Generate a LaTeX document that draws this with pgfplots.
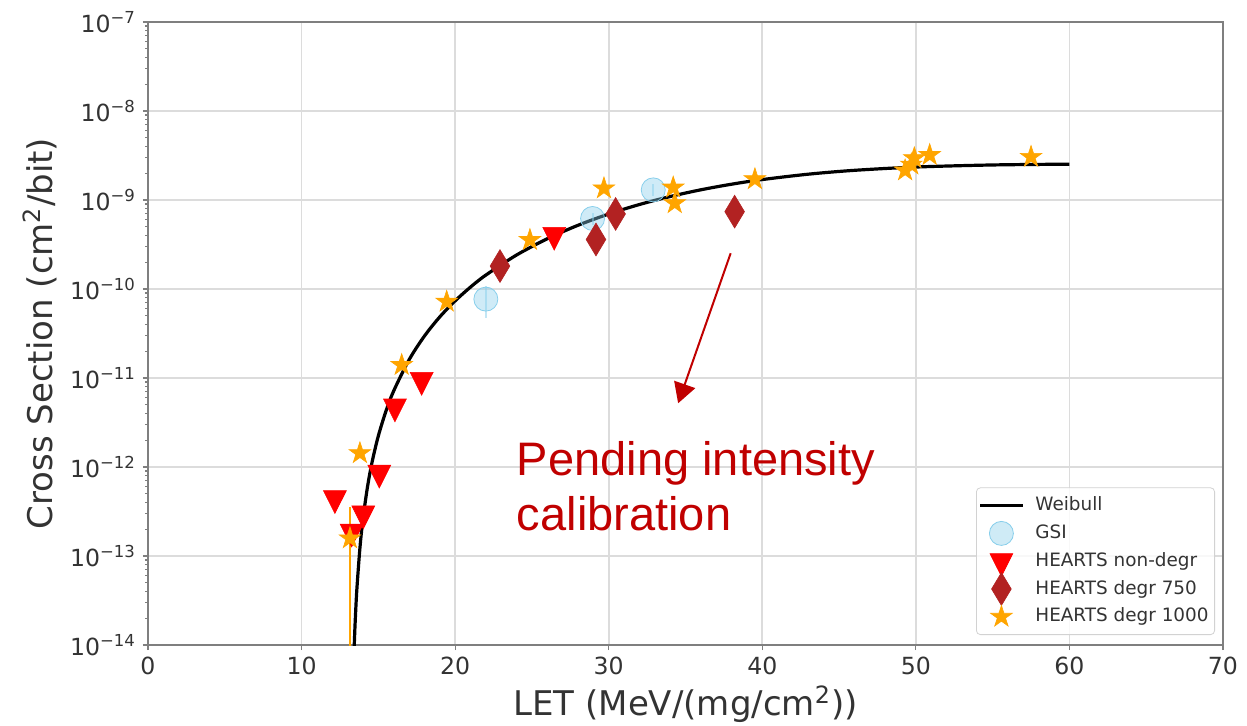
\documentclass[border=0pt]{standalone}
\usepackage{fontspec}
\setmainfont{DejaVu Sans}
\newfontfamily\arialfont{Liberation Sans}
\usepackage{pgfplots}
\pgfplotsset{compat=1.18}
\usetikzlibrary{arrows.meta}
\definecolor{GSIblue}{HTML}{87CEEB}
\definecolor{Firebrick}{HTML}{B22222}
\definecolor{StarOrange}{HTML}{FFA500}
\definecolor{Note}{HTML}{C00000}
\definecolor{GridGray}{HTML}{DCDCDC}
\definecolor{Spine}{HTML}{7F7F7F}

% filled five-point star, like matplotlib's '*'
\pgfdeclareplotmark{fstar}{%
  \pgfpathmoveto{\pgfpoint{0pt}{\pgfplotmarksize}}%
  \pgfpathlineto{\pgfpoint{-0.2245\pgfplotmarksize}{0.3090\pgfplotmarksize}}%
  \pgfpathlineto{\pgfpoint{-0.9511\pgfplotmarksize}{0.3090\pgfplotmarksize}}%
  \pgfpathlineto{\pgfpoint{-0.3633\pgfplotmarksize}{-0.1180\pgfplotmarksize}}%
  \pgfpathlineto{\pgfpoint{-0.5878\pgfplotmarksize}{-0.8090\pgfplotmarksize}}%
  \pgfpathlineto{\pgfpoint{0pt}{-0.382\pgfplotmarksize}}%
  \pgfpathlineto{\pgfpoint{0.5878\pgfplotmarksize}{-0.8090\pgfplotmarksize}}%
  \pgfpathlineto{\pgfpoint{0.3633\pgfplotmarksize}{-0.1180\pgfplotmarksize}}%
  \pgfpathlineto{\pgfpoint{0.9511\pgfplotmarksize}{0.3090\pgfplotmarksize}}%
  \pgfpathlineto{\pgfpoint{0.2245\pgfplotmarksize}{0.3090\pgfplotmarksize}}%
  \pgfpathclose
  \pgfusepathqfillstroke}

\begin{document}
\begin{tikzpicture}
\begin{axis}[
    scale only axis,
    width=537.5pt, height=311.5pt,
    xmin=0, xmax=70,
    ymode=log, ymin=1e-14, ymax=1e-7,
    xtick={0,10,...,70},
    xticklabels={0,10,20,30,40,50,60,70},
    ytick={1e-14,1e-13,1e-12,1e-11,1e-10,1e-9,1e-8,1e-7},
    yticklabels={10\textsuperscript{−14},10\textsuperscript{−13},10\textsuperscript{−12},10\textsuperscript{−11},10\textsuperscript{−10},10\textsuperscript{−9},10\textsuperscript{−8},10\textsuperscript{−7}},
    xtick pos=bottom, ytick pos=left,
    tick align=outside,
    major tick length=2.5pt, minor tick length=1.3pt,
    tick style={Spine, line width=0.6pt},
    axis line style={Spine, line width=0.7pt},
    grid=major,
    major grid style={GridGray, line width=0.8pt},
    tick label style={font=\fontsize{11.8}{14}\selectfont, text=black!80},
    label style={font=\fontsize{17}{20}\selectfont, text=black!80},
    xlabel={LET (MeV/(mg/cm\textsuperscript{2}))},
    ylabel={Cross Section (cm\textsuperscript{2}/bit)},
    xlabel style={at={(axis description cs:0.5,0)}, anchor=center, yshift=-29.5pt},
    ylabel style={at={(axis description cs:-0.1005,0.5)}, anchor=center},
    legend style={at={(1,0)}, anchor=south east, xshift=-4pt, yshift=5pt,
        draw=gray!35, rounded corners=2pt, fill=white, fill opacity=0.8, text opacity=1,
        font=\fontsize{9.2}{11}\selectfont, text=black!80,
        inner xsep=2pt, inner ysep=3.4pt, row sep=2.9pt,
        nodes={inner sep=1pt, text height=7pt, text depth=2pt},
        /tikz/every odd column/.append style={column sep=5.5pt}},
    legend cell align=left,
    legend image code/.code={%
        \path[draw=none, fill=none] (0pt,-3pt) rectangle (21pt,3pt);
        \draw[overlay, rounded corners=0pt, fill opacity=1, draw opacity=1, mark repeat=2, mark phase=2, #1] plot coordinates {(0pt,0pt) (10.5pt,0pt) (21pt,0pt)};},
]
% Weibull fit
\addplot[black, line width=1.6pt, smooth] coordinates {
(13.38,5.1e-15) (13.42,8.7e-15) (13.45,1.22e-14) (13.50,1.97e-14) (13.60,4.22e-14)
(13.80,1.23e-13) (14.00,2.63e-13) (14.30,6.09e-13) (14.60,1.153e-12) (15.00,2.24e-12)
(15.50,4.27e-12) (16.00,7.17e-12) (17.00,1.601e-11) (18.00,2.96e-11) (19.00,4.86e-11)
(20.00,7.36e-11) (21.00,1.051e-10) (22.00,1.434e-10) (24.00,2.41e-10) (26.00,3.67e-10)
(28.00,5.20e-10) (30.00,6.96e-10) (32.00,8.90e-10) (34.00,1.094e-9) (36.00,1.302e-9)
(38.00,1.505e-9) (40.00,1.697e-9) (43.00,1.951e-9) (46.00,2.155e-9) (50.00,2.347e-9)
(55.00,2.476e-9) (60.00,2.528e-9)};
% GSI
\addplot[only marks, mark=*, mark size=6pt, GSIblue,
    mark options={draw=none, fill=GSIblue, fill opacity=0.4},
    error bars/.cd, y dir=both, y explicit, error mark=none,
    error bar style={GSIblue, opacity=0.5, line width=1pt}]
coordinates {
(22.0,7.7e-11) +- (0,3.0e-11)
(28.95,6.2e-10) +- (0,1.0e-10)
(32.9,1.3e-9) +- (0,2.0e-10)};
% HEARTS non-degr
\addplot[only marks, mark=triangle*, mark size=6.6pt, red,
    mark options={rotate=180, yscale=1.15, draw=red, fill=red, line width=0.3pt}]
coordinates {
(12.17,4.45e-13) (13.26,1.87e-13) (14.02,3.0e-13) (15.06,8.6e-13)
(16.08,4.77e-12) (17.82,9.5e-12) (26.45,4.05e-10)};
% HEARTS degr 750
\addplot[only marks, mark=diamond*, mark size=8.2pt, Firebrick,
    mark options={xscale=0.8, draw=Firebrick, fill=Firebrick, line width=0.3pt}]
coordinates {
(22.92,1.81e-10) (29.17,3.6e-10) (30.45,6.97e-10) (38.2,7.4e-10)};
% HEARTS degr 1000
\addplot[only marks, mark=fstar, mark size=5.7pt, StarOrange,
    mark options={draw=StarOrange, fill=StarOrange, line width=0.3pt},
    error bars/.cd, y dir=both, y explicit, error mark=none,
    error bar style={StarOrange, line width=1pt}]
coordinates {
(13.15,1.58e-13) += (0,2.0e-13) -= (0,1.57e-13)
(13.8,1.43e-12) (16.52,1.4e-11) (19.45,7.2e-11) (24.87,3.55e-10)
(29.69,1.35e-9) (34.2,1.38e-9) (34.3,9.2e-10) (39.52,1.71e-9)
(49.3,2.15e-9) (49.7,2.5e-9) (49.9,2.95e-9) (50.9,3.2e-9) (57.5,3.05e-9)};
\legend{Weibull, GSI, HEARTS non-degr, HEARTS degr 750, HEARTS degr 1000}
% annotation
\draw[Note, line width=1pt, -{Triangle[length=10pt, width=11pt]}]
    (axis cs:37.94,2.52e-10) -- (axis cs:34.52,5.2e-12);
\node[anchor=base west, inner sep=0pt, text=Note, font=\arialfont\fontsize{23.5}{27.5}\selectfont]
    at (axis cs:24.0,8.13e-13) {Pending intensity};
\node[anchor=base west, inner sep=0pt, text=Note, font=\arialfont\fontsize{23.5}{27.5}\selectfont]
    at (axis cs:24.0,1.96e-13) {calibration};
\coordinate (ll) at (rel axis cs:0,0);
\coordinate (ur) at (rel axis cs:1,1);
\end{axis}
\pgfresetboundingbox
\path ([shift={(-74pt,-40.5pt)}]ll) rectangle ([shift={(12pt,11pt)}]ur);
\end{tikzpicture}
\end{document}
